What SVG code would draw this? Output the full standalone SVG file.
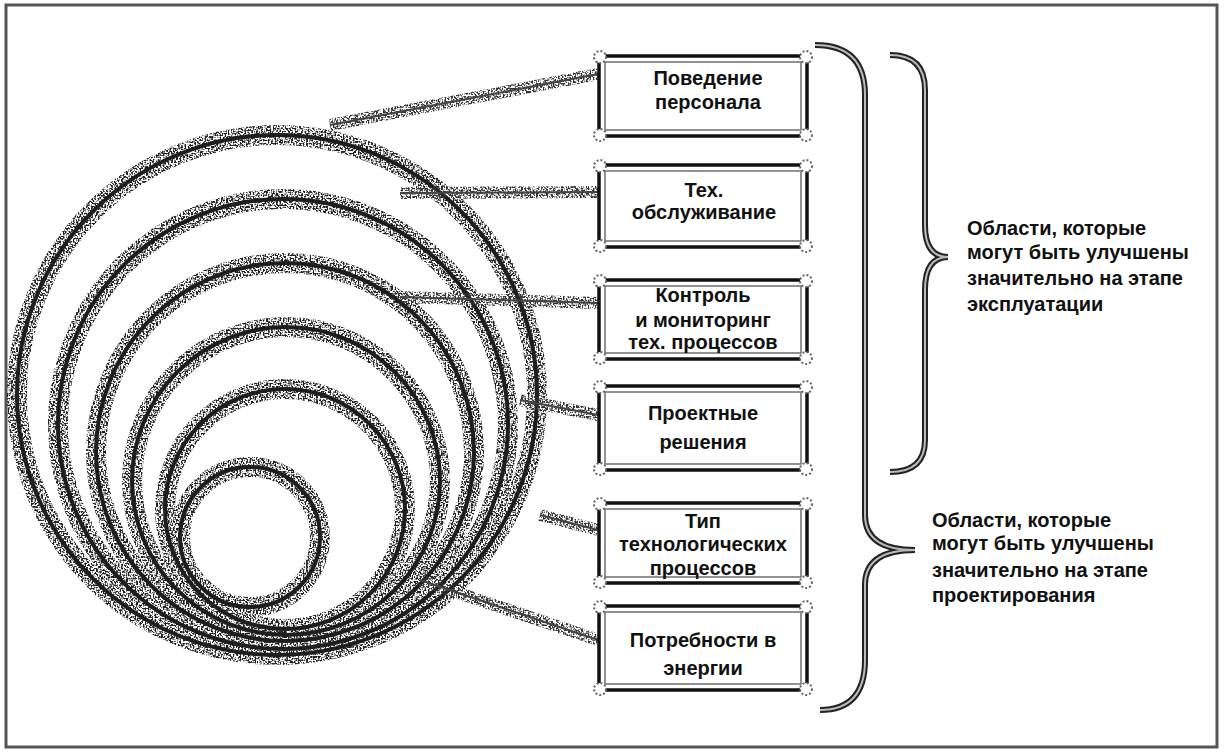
<svg xmlns="http://www.w3.org/2000/svg" width="1224" height="754" viewBox="0 0 1224 754">
<defs>
<filter id="spk" x="-10%" y="-10%" width="120%" height="120%">
<feTurbulence type="fractalNoise" baseFrequency="0.6" numOctaves="1" seed="3" result="n"/>
<feColorMatrix in="n" type="matrix" values="0 0 0 0 0  0 0 0 0 0  0 0 0 0 0  7 0 0 0 -3.1" result="m"/>
<feComposite in="SourceGraphic" in2="m" operator="in"/>
</filter>
</defs>
<style>
.frame{fill:none;stroke:#555;stroke-width:3}
.ringf{fill:none;stroke:#222;stroke-width:20}
.ring{fill:none;stroke:#1e1e1e;stroke-width:4}
.leadf{fill:none;stroke:#333;stroke-width:12}
.lead{fill:none;stroke:#444;stroke-width:2}
.bo{fill:#fff;stroke:#111;stroke-width:3.5}
.bi{fill:none;stroke:#777;stroke-width:1.6}
.cor{fill:#fff;stroke:#666;stroke-width:2;stroke-dasharray:2 2}
.brf{fill:none;stroke:#222;stroke-width:6}
.brc{fill:none;stroke:#bbb;stroke-width:2}
.bt{font-family:"Liberation Sans",Arial,sans-serif;font-weight:bold;font-size:20px;fill:#111;text-anchor:middle}
.rt{font-family:"Liberation Sans",Arial,sans-serif;font-weight:bold;font-size:20px;fill:#111}
</style>
<rect class="frame" x="6" y="5" width="1211" height="742"/>
<g id="rings">
<g filter="url(#spk)">
<circle class="ringf" cx="277" cy="395" r="260"/>
<circle class="ringf" cx="283" cy="424" r="225"/>
<circle class="ringf" cx="285" cy="452" r="189"/>
<circle class="ringf" cx="286" cy="481" r="154"/>
<circle class="ringf" cx="285" cy="509" r="120"/>
<circle class="ringf" cx="250" cy="537" r="70"/>
</g>
<circle class="ring" cx="277" cy="395" r="260"/>
<circle class="ring" cx="283" cy="424" r="225"/>
<circle class="ring" cx="285" cy="452" r="189"/>
<circle class="ring" cx="286" cy="481" r="154"/>
<circle class="ring" cx="285" cy="509" r="120"/>
<circle class="ring" cx="250" cy="537" r="70"/>
</g>
<g id="connectors">
<g filter="url(#spk)">
<path class="leadf" d="M330,125 L598,74"/>
<path class="leadf" d="M400,193 L598,192"/>
<path class="leadf" d="M400,297 L598,303"/>
<path class="leadf" d="M520,400 L598,415"/>
<path class="leadf" d="M540,515 L598,530"/>
<path class="leadf" d="M420,580 L598,640"/>
</g>
<path class="lead" d="M330,125 L598,74"/>
<path class="lead" d="M400,193 L598,192"/>
<path class="lead" d="M400,297 L598,303"/>
<path class="lead" d="M520,400 L598,415"/>
<path class="lead" d="M540,515 L598,530"/>
<path class="lead" d="M420,580 L598,640"/>
</g>
<g id="box1">
<rect class="bo" x="599" y="56" width="208" height="80"/>
<rect class="bi" x="605" y="62" width="196" height="68"/>
<circle class="cor" cx="600" cy="57" r="6"/><circle class="cor" cx="806" cy="57" r="6"/><circle class="cor" cx="600" cy="135" r="6"/><circle class="cor" cx="806" cy="135" r="6"/>
<text class="bt" x="708" y="85">Поведение</text>
<text class="bt" x="708" y="109">персонала</text>
</g>
<g id="box2">
<rect class="bo" x="599" y="165" width="208" height="82"/>
<rect class="bi" x="605" y="171" width="196" height="70"/>
<circle class="cor" cx="600" cy="166" r="6"/><circle class="cor" cx="806" cy="166" r="6"/><circle class="cor" cx="600" cy="246" r="6"/><circle class="cor" cx="806" cy="246" r="6"/>
<text class="bt" x="704" y="197">Тех.</text>
<text class="bt" x="704" y="219">обслуживание</text>
</g>
<g id="box3">
<rect class="bo" x="599" y="280" width="208" height="79"/>
<rect class="bi" x="605" y="286" width="196" height="67"/>
<circle class="cor" cx="600" cy="281" r="6"/><circle class="cor" cx="806" cy="281" r="6"/><circle class="cor" cx="600" cy="358" r="6"/><circle class="cor" cx="806" cy="358" r="6"/>
<text class="bt" x="703" y="302">Контроль</text>
<text class="bt" x="703" y="327">и мониторинг</text>
<text class="bt" x="703" y="349">тех. процессов</text>
</g>
<g id="box4">
<rect class="bo" x="599" y="386" width="208" height="84"/>
<rect class="bi" x="605" y="392" width="196" height="72"/>
<circle class="cor" cx="600" cy="387" r="6"/><circle class="cor" cx="806" cy="387" r="6"/><circle class="cor" cx="600" cy="469" r="6"/><circle class="cor" cx="806" cy="469" r="6"/>
<text class="bt" x="703" y="420">Проектные</text>
<text class="bt" x="703" y="449">решения</text>
</g>
<g id="box5">
<rect class="bo" x="599" y="503" width="208" height="80"/>
<rect class="bi" x="605" y="509" width="196" height="68"/>
<circle class="cor" cx="600" cy="504" r="6"/><circle class="cor" cx="806" cy="504" r="6"/><circle class="cor" cx="600" cy="582" r="6"/><circle class="cor" cx="806" cy="582" r="6"/>
<text class="bt" x="703" y="528">Тип</text>
<text class="bt" x="703" y="551">технологических</text>
<text class="bt" x="703" y="575">процессов</text>
</g>
<g id="box6">
<rect class="bo" x="599" y="606" width="208" height="84"/>
<rect class="bi" x="605" y="612" width="196" height="72"/>
<circle class="cor" cx="600" cy="607" r="6"/><circle class="cor" cx="806" cy="607" r="6"/><circle class="cor" cx="600" cy="689" r="6"/><circle class="cor" cx="806" cy="689" r="6"/>
<text class="bt" x="703" y="647">Потребности в</text>
<text class="bt" x="703" y="675">энергии</text>
</g>
<g id="brace1">
<path class="brf" d="M815,45 Q865,45 865,95 L865,515 Q865,550 915,550 Q865,550 865,585 L865,660 Q865,710 820,710"/>
<path class="brc" d="M815,45 Q865,45 865,95 L865,515 Q865,550 915,550 Q865,550 865,585 L865,660 Q865,710 820,710"/>
</g>
<g id="brace2">
<path class="brf" d="M890,55 Q925,55 925,90 L925,225 Q925,257 948,257 Q925,257 925,290 L925,440 Q925,472 890,472"/>
<path class="brc" d="M890,55 Q925,55 925,90 L925,225 Q925,257 948,257 Q925,257 925,290 L925,440 Q925,472 890,472"/>
</g>
<g id="label1">
<text class="rt" x="967" y="235">Области, которые</text>
<text class="rt" x="967" y="259">могут быть улучшены</text>
<text class="rt" x="967" y="285">значительно на этапе</text>
<text class="rt" x="967" y="311">эксплуатации</text>
</g>
<g id="label2">
<text class="rt" x="932" y="527">Области, которые</text>
<text class="rt" x="932" y="550">могут быть улучшены</text>
<text class="rt" x="932" y="577">значительно на этапе</text>
<text class="rt" x="932" y="602">проектирования</text>
</g>
</svg>
